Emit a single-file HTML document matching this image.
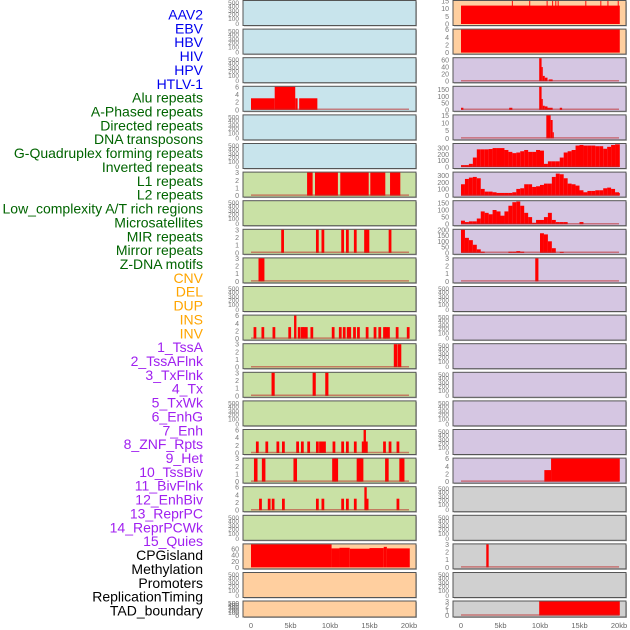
<!DOCTYPE html>
<html><head><meta charset="utf-8">
<style>
html,body{margin:0;padding:0;background:#fff;}
svg{display:block;font-family:"Liberation Sans",sans-serif;}
</style></head>
<body>
<svg id="chart" width="630" height="630" viewBox="0 0 630 630">
<g id="labels"></g>
<g id="panels"></g>
</svg>
<script>
// ---------- data ----------
const labelTexts = ["AAV2","EBV","HBV","HIV","HPV","HTLV-1","Alu repeats","A-Phased repeats","Directed repeats","DNA transposons","G-Quadruplex forming repeats","Inverted repeats","L1 repeats","L2 repeats","Low_complexity A/T rich regions","Microsatellites","MIR repeats","Mirror repeats","Z-DNA motifs","CNV","DEL","DUP","INS","INV","1_TssA","2_TssAFlnk","3_TxFlnk","4_Tx","5_TxWk","6_EnhG","7_Enh","8_ZNF_Rpts","9_Het","10_TssBiv","11_BivFlnk","12_EnhBiv","13_ReprPC","14_ReprPCWk","15_Quies","CPGisland","Methylation","Promoters","ReplicationTiming","TAD_boundary"];
const labelGroups = [0,0,0,0,0,0,1,1,1,1,1,1,1,1,1,1,1,1,1,2,2,2,2,2,3,3,3,3,3,3,3,3,3,3,3,3,3,3,3,4,4,4,4,4];
const xTickLabels = ["0","5kb","10kb","15kb","20kb"];
const xTickValues = [0,5,10,15,20];

// segments [startKb, endKb, value]
const leftAlu = [[0,3,3],[3,5.6,6],[5.6,5.9,3],[6.1,8.4,3]];
const leftInverted = [[7.1,7.8,3],[8.1,11.0,3],[11.3,14.9,3],[15.1,17.0,3],[17.6,18.9,3]];
const leftMirBars = [4.0,8.4,9.1,11.6,12.2,13.2,14.5,14.8,17.6];
const leftMirrorBars = [1.2,1.45];
const leftInsBars = [0.5,1.5,2.9,4.9,6.1,6.5,6.7,7.0,7.7,10.4,11.3,11.8,12.3,12.5,13.1,13.6,14.7,15.7,16.3,16.9,17.1,17.4,18.5,19.9];
const leftInsTall = [5.6];
const leftInvBars = [18.3,18.8];
const leftTxBars = [2.8,8.0,9.6];
const leftEnhBars = [0.8,2.0,3.4,4.1,5.9,6.5,7.3,8.4,8.8,9.1,9.3,10.5,11.6,12.2,13.2,14.2,14.6,16.9,17.6,18.6];
const leftEnhTall = [14.4];
const leftHetBars = [0.6,1.6,5.6,10.5,10.8,13.6,13.8,14.0,17.2,19.0,19.2];
const leftBivBars = [1.2,2.3,2.8,4.1,8.4,9.1,11.6,12.2,13.2,14.7,18.6];
const leftBivTall = [14.5];
const leftCpg = [[0,10.2,75],[10.2,11.2,62],[11.2,12.5,64],[12.5,15,61],[15,16.8,63],[16.8,17.2,67],[17.2,20.1,62]];

const rightAav = [[0,20.1,12]];
const rightAavSpikes = [6.5,8.7,10.9,11.6,12.0,12.3,15.8,17.7,18.6,19.9];
const rightEbv = [[0,20.1,6]];
const rightHiv = [[9.9,10.2,65],[10.2,10.35,40],[10.35,10.6,15],[10.6,10.95,10],[11.1,11.6,5]];
const rightHbv = [[0,0.3,15],[6.1,6.5,15],[9.9,10.2,170],[10.2,10.35,80],[10.35,10.6,30],[10.6,10.95,25],[10.95,11.6,15],[12.5,12.8,15]];
const rightHtlv = [[10.8,11.35,15],[11.35,11.6,12],[11.6,11.75,4]];
const rightGquad = [30,30,50,150,280,280,280,285,300,300,300,270,240,220,230,250,270,240,240,270,260,50,90,90,90,150,230,250,270,340,350,340,340,340,330,330,290,320,350,360,360];
const rightL1 = [170,250,270,280,260,100,60,60,50,40,40,40,40,50,100,110,170,170,130,140,160,180,180,280,330,320,260,180,170,150,80,50,70,70,80,80,110,120,100,50,40];
const rightLowc = [25,15,20,20,40,90,80,70,100,90,60,90,130,155,160,130,80,50,10,30,30,50,80,30,15,15,15,0,0,0,15,0,0,0,0,0,0,0,0,0,0];
const rightMicro = [200,130,110,70,30,10,0,0,0,0,0,0,10,10,15,10,0,0,0,0,170,160,100,40,0,8,0,0,0,0,0,0,0,0,0,0,0,0,0,0,0];
const rightZdna = [[9.4,9.8,3]];
const rightTssBiv = [[10.55,11.4,3],[11.4,20.1,6]];
const rightCpg = [[3.2,3.5,3]];
const rightTad = [[9.9,20.1,3]];

const emptyTicks = ["0","100","200","300","400","500"];
const ticks3 = ["0","1","2","3"];
const ticks6 = ["0","2","4","6"];

// ---------- layout ----------
const NS = "http://www.w3.org/2000/svg";
const C = {blue:"#c8e4ec", green:"#c9e1a5", orange:"#ffcf9f", purple:"#d5c6e2", gray:"#d0d0d0"};
const labelColors = ["#0000ee","#006400","#ffa500","#a020f0","#000000"];
const panelsX = [{x0:243,x1:416,d0:251,d1:409},{x0:453,x1:626,d0:461,d1:619}];
function rowTop(i){ return i<21 ? 0.5 + i*28.6 : 601; }
function rowH(i){ return i<21 ? 25 : 16; }
function mk(tag, attrs, parent){ const e=document.createElementNS(NS,tag); for(const k in attrs) e.setAttribute(k,attrs[k]); parent.appendChild(e); return e; }

const labelsG = document.getElementById('labels');
labelTexts.forEach((t,i)=>{
  const e = mk('text',{x:203,y:19.5+i*13.86,'text-anchor':'end','font-size':14,fill:labelColors[labelGroups[i]]},labelsG);
  
  
  e.textContent=t;
});

function bars(list,w,v){ return list.map(p=>[p-w/2,p+w/2,v]); }
function profile(vals){ return vals.map((v,k)=>[k*0.5, Math.min(20.1,k*0.5+0.5), v]); }

const leftRows = [
 {bg:C.blue},{bg:C.blue},{bg:C.blue},
 {bg:C.blue,max:6,ticks:ticks6,segs:leftAlu},
 {bg:C.blue},{bg:C.blue},
 {bg:C.green,max:3,ticks:ticks3,segs:leftInverted},
 {bg:C.green},
 {bg:C.green,max:3,ticks:ticks3,segs:bars(leftMirBars,0.35,3)},
 {bg:C.green,max:3,ticks:ticks3,segs:bars(leftMirrorBars,0.5,3)},
 {bg:C.green},
 {bg:C.green,max:6,ticks:ticks6,segs:bars(leftInsBars,0.35,3).concat(bars(leftInsTall,0.3,6))},
 {bg:C.green,max:3,ticks:ticks3,segs:bars(leftInvBars,0.45,3)},
 {bg:C.green,max:3,ticks:ticks3,segs:bars(leftTxBars,0.4,3)},
 {bg:C.green},
 {bg:C.green,max:6,ticks:ticks6,segs:bars(leftEnhBars,0.35,3).concat(bars(leftEnhTall,0.3,6))},
 {bg:C.green,max:3,ticks:ticks3,segs:bars(leftHetBars,0.45,3)},
 {bg:C.green,max:6,ticks:ticks6,segs:bars(leftBivBars,0.35,3).concat(bars(leftBivTall,0.3,6))},
 {bg:C.green},
 {bg:C.orange,max:75,ticks:["0","20","40","60"],tickVals:[0,20,40,60],segs:leftCpg,noBase:true},
 {bg:C.orange},{bg:C.orange}
];
const rightRows = [
 {bg:C.orange,max:15,ticks:["0","5","10","15"],tickVals:[0,5,10,15],segs:rightAav.concat(bars(rightAavSpikes,0.12,15)),noBase:true},
 {bg:C.orange,max:6,ticks:ticks6,segs:rightEbv,noBase:true},
 {bg:C.purple,max:65,ticks:["0","20","40","60"],tickVals:[0,20,40,60],segs:rightHiv},
 {bg:C.purple,max:170,ticks:["0","50","100","150"],tickVals:[0,50,100,150],segs:rightHbv},
 {bg:C.purple,max:15,ticks:["0","5","10","15"],tickVals:[0,5,10,15],segs:rightHtlv},
 {bg:C.purple,max:365,ticks:["0","100","200","300"],tickVals:[0,100,200,300],segs:profile(rightGquad)},
 {bg:C.purple,max:345,ticks:["0","100","200","300"],tickVals:[0,100,200,300],segs:profile(rightL1)},
 {bg:C.purple,max:162,ticks:["0","50","100","150"],tickVals:[0,50,100,150],segs:profile(rightLowc)},
 {bg:C.purple,max:200,ticks:["0","50","100","150","200"],tickVals:[0,50,100,150,200],segs:profile(rightMicro)},
 {bg:C.purple,max:3,ticks:ticks3,segs:rightZdna},
 {bg:C.purple},{bg:C.purple},{bg:C.purple},{bg:C.purple},{bg:C.purple},{bg:C.purple},
 {bg:C.purple,max:6,ticks:ticks6,segs:rightTssBiv},
 {bg:C.gray},{bg:C.gray},
 {bg:C.gray,max:3,ticks:ticks3,segs:rightCpg},
 {bg:C.gray},
 {bg:C.gray,max:3,ticks:ticks3,segs:rightTad}
];
leftRows.push({bg:C.orange,short:true});

const panelsG = document.getElementById('panels');
[leftRows,rightRows].forEach((rows,pi)=>{
  const P = panelsX[pi];
  const xs = kb => P.d0 + (kb/20)*(P.d1-P.d0);
  rows.forEach((r,i)=>{
    const top=rowTop(i), h=rowH(i);
    const g = mk('g',{},panelsG);
    
    
    mk('rect',{x:P.x0+1,y:top+1,width:P.x1-P.x0,height:h,fill:'#bbb'},g);
    mk('rect',{x:P.x0,y:top,width:P.x1-P.x0,height:h,fill:r.bg,stroke:'#555','stroke-width':1},g);
    const y0 = top+h-1.5, y1 = top+0.5;
    if(r.segs){
      const ys = v => y0 - (v/r.max)*(y0-y1);
      const tv = r.tickVals || r.ticks.map(Number);
      r.ticks.forEach((t,k)=>{
        const e = mk('text',{x:P.x0-4,y:ys(tv[k])+2.5,'text-anchor':'end','font-size':7,fill:'#777'},g);
        
        
        e.textContent=t;
      });
      r.segs.forEach(s=>{
        if(s[2]<=0) return;
        const b = mk('rect',{x:xs(s[0]),y:ys(s[2]),width:Math.max(0.8,xs(s[1])-xs(s[0])),height:y0-ys(s[2]),fill:'#ff0000'},g);
        
        
      });
      if(!r.noBase){
        const l = mk('line',{x1:xs(0),x2:xs(20),y1:y0-0.5,y2:y0-0.5,stroke:'rgba(190,40,40,0.55)','stroke-width':1.5},g);
        
        
      }
    } else {
      const offs = h>20 ? [23.5,18.5,14,10.5,6,2.5] : [15,12,9.5,7,4.5,2.5];
      emptyTicks.forEach((t,k)=>{
        const e = mk('text',{x:P.x0-4,y:top+offs[k]+2,'text-anchor':'end','font-size':6.5,fill:'#777'},g);
        
        
        e.textContent=t;
      });
    }
  });
  xTickValues.forEach((v,k)=>{
    const e = mk('text',{x:xs(v),y:628,'text-anchor':'middle','font-size':7.5,fill:'#666'},panelsG);
    
    
    e.textContent=xTickLabels[k];
  });
});
</script>
</body></html>
